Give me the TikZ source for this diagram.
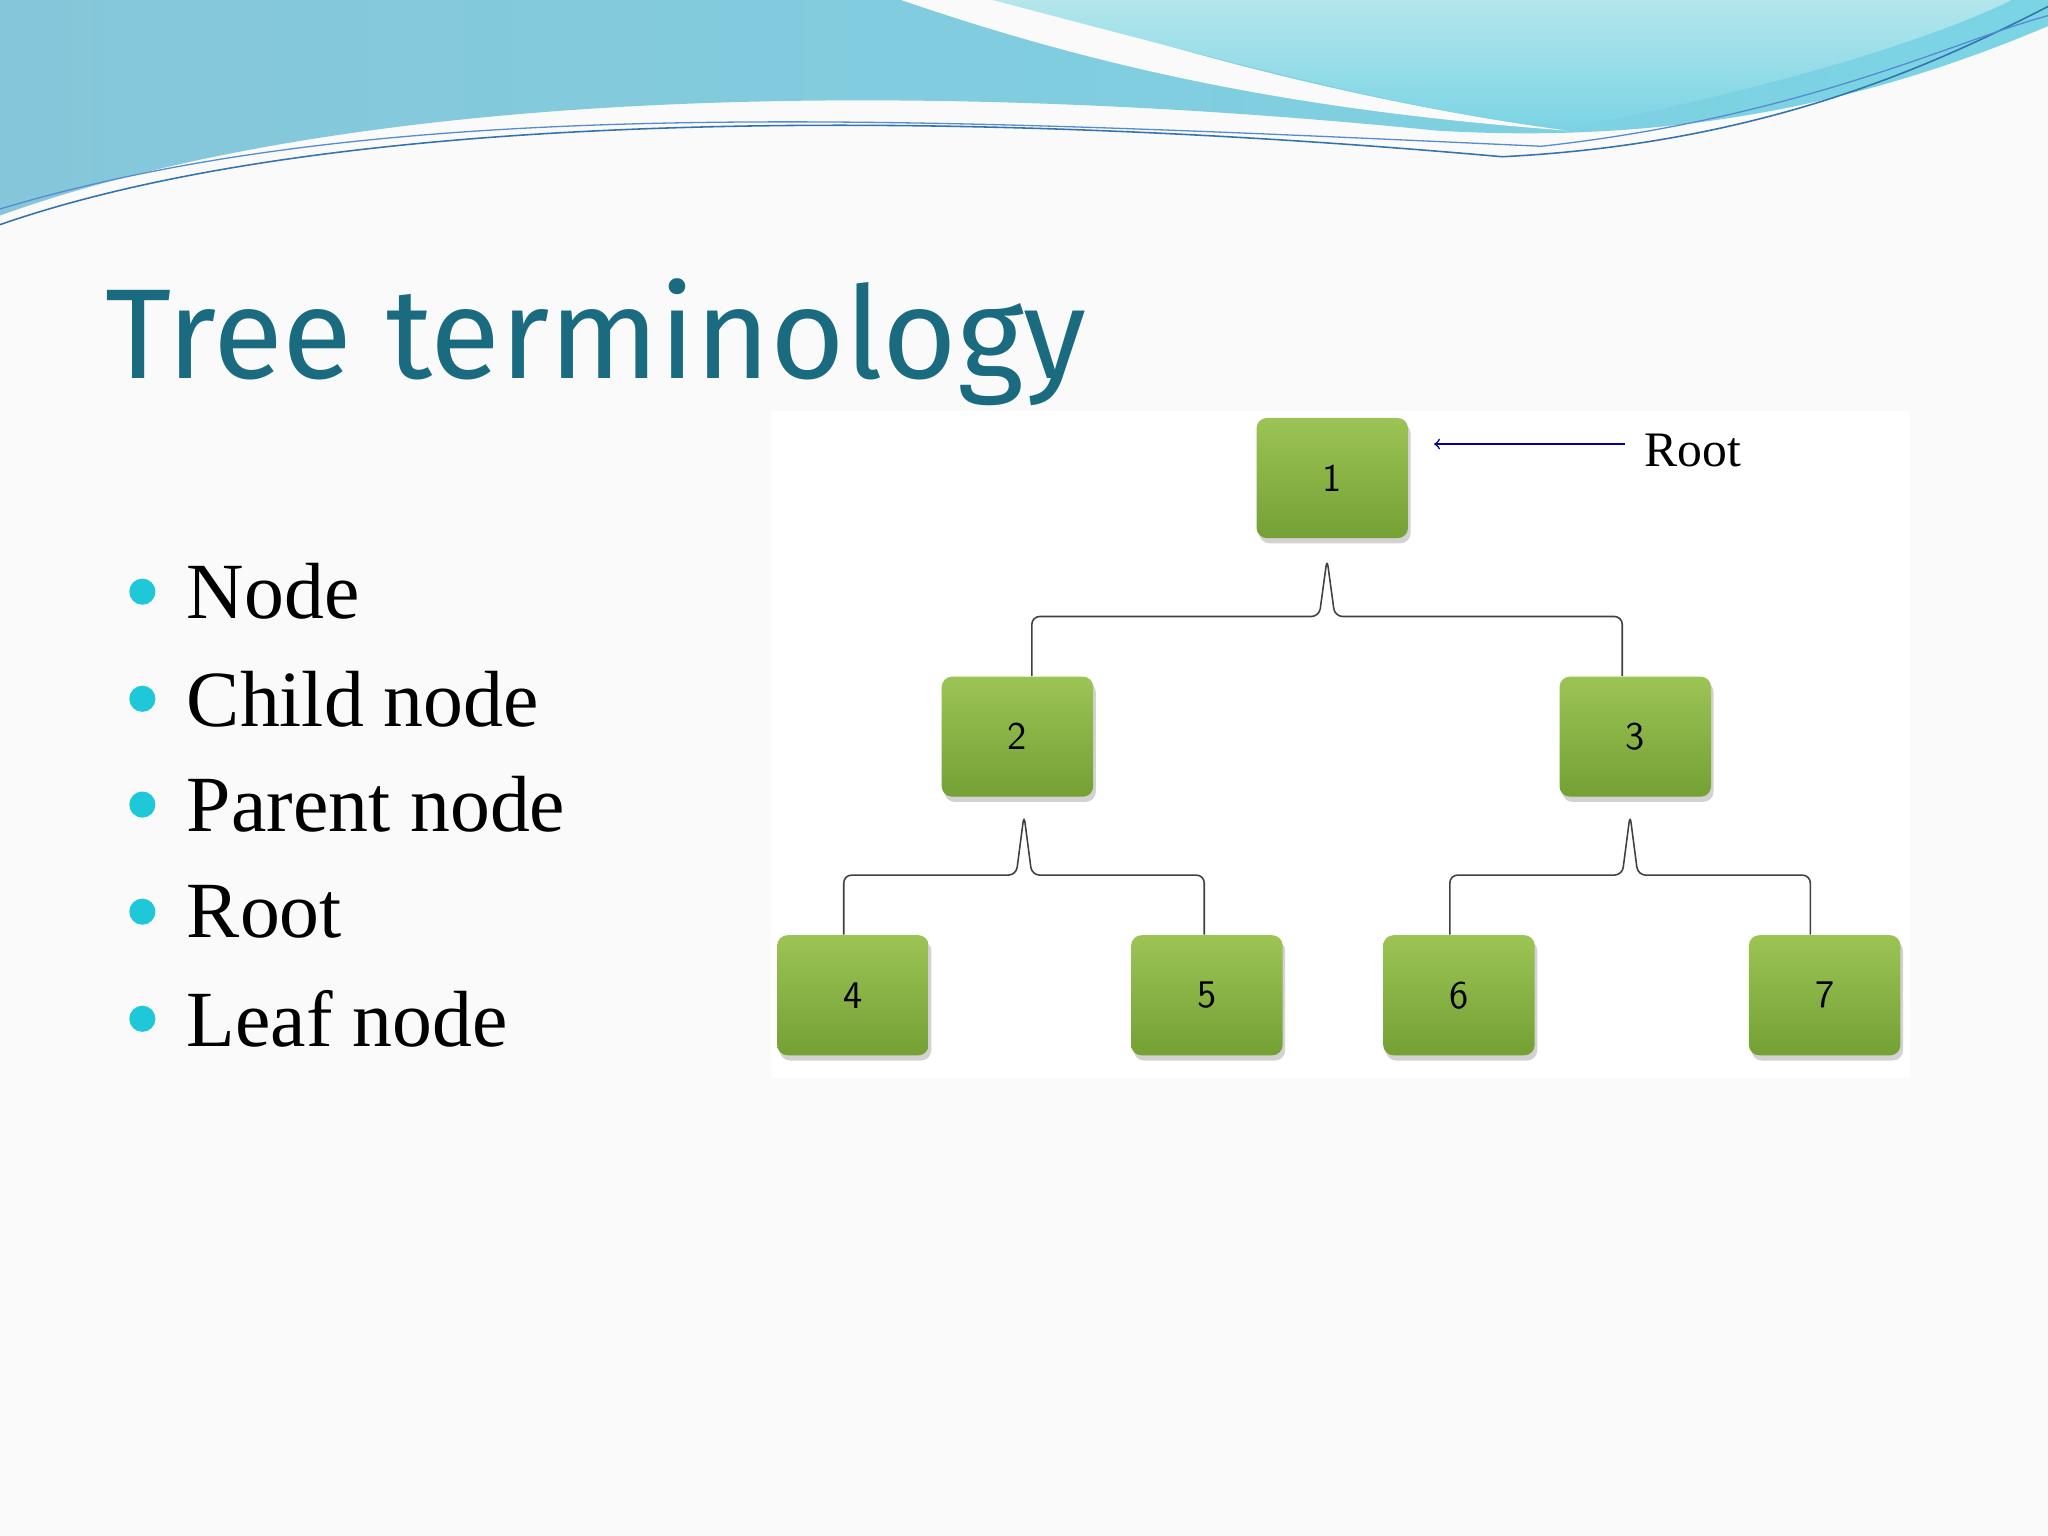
\documentclass[tikz,border=0pt]{standalone}
\usepackage{fontspec}
\setmainfont{Liberation Serif}
\newfontfamily\titlefont{Fira Sans}
\usetikzlibrary{shadows}
\definecolor{titleblue}{HTML}{1A6B80}
\definecolor{bul}{HTML}{1EC8D8}
\definecolor{gtop}{HTML}{9CC455}
\definecolor{gbot}{HTML}{74A034}
\definecolor{wave1}{HTML}{86C6DA}
\definecolor{wave2}{HTML}{7BD4E4}
\definecolor{wave3}{HTML}{B4E6EC}
\tikzset{
 tnode/.style={rounded corners=4pt, minimum width=58pt, minimum height=46pt, top color=gtop, bottom color=gbot, shade, draw=none, drop shadow={opacity=0.35,shadow xshift=1pt,shadow yshift=-2pt}, font=\fontsize{15}{15}\sffamily},
 conn/.style={draw=black!75, line width=0.6pt, rounded corners=3pt},
 btext/.style={anchor=west, font=\fontsize{30.5}{31}\selectfont},
 dot/.style={circle, fill=bul, inner sep=0pt, minimum size=10pt}
}
\begin{document}
\begin{tikzpicture}[x=0.5pt,y=-0.5pt]
\useasboundingbox (0,0) rectangle (1568,1176);
\fill[black!2] (0,0) rectangle (1568,1176);
% header waves
\shade[left color=wave1, right color=wave2] (0,0) -- (0,165) .. controls (250,75) and (650,55) .. (1100,100) .. controls (1300,112) and (1450,70) .. (1568,20) -- (1568,0) -- cycle;
\fill[black!2] (690,0) .. controls (850,55) and (1000,85) .. (1200,100) .. controls (1050,80) and (900,40) .. (780,0) -- cycle;
\shade[top color=wave3, bottom color=wave2] (760,0) .. controls (950,50) and (1100,90) .. (1200,98) .. controls (1350,70) and (1480,30) .. (1540,0) -- cycle;
\draw[cyan!60!blue!80!black, line width=0.6pt] (0,172) .. controls (250,85) and (700,80) .. (1150,120) .. controls (1350,110) and (1480,50) .. (1568,5);
\draw[cyan!50!blue!70, line width=0.5pt] (0,160) .. controls (300,70) and (700,90) .. (1180,112) .. controls (1380,90) and (1500,30) .. (1568,12);
% title
\node[anchor=base west, text=titleblue, font=\titlefont\fontsize{49}{49}\selectfont, inner sep=0] (title) at (80,290) {Tree terminology};
% bullets
\foreach \t/\y [count=\i] in {Node/453, Child node/535, Parent node/616, Root/698, Leaf node/780}{
 \node[dot] (d\i) at (109,\y) {};
 \node[btext] (b\i) at (136,\y) {\t};
}
% diagram panel
\fill[white] (590,315) rectangle (1462,825);
\node[tnode] (n1) at (1020,366) {1};
\node[tnode] (n2) at (779,564) {2};
\node[tnode] (n3) at (1252,564) {3};
\node[tnode] (n4) at (653,762) {4};
\node[tnode] (n5) at (924,762) {5};
\node[tnode] (n6) at (1117,762) {6};
\node[tnode] (n7) at (1397,762) {7};
\draw[conn] (n2.north -| 790,0) -- (790,472) -- (1010,472) -- (1016,428) -- (1022,472) -- (1242,472) -- (n3.north -| 1242,0);
\draw[conn] (n4.north -| 646,0) -- (646,670) -- (778,670) -- (784,624) -- (790,670) -- (922,670) -- (n5.north -| 922,0);
\draw[conn] (n6.north -| 1110,0) -- (1110,670) -- (1242,670) -- (1248,624) -- (1254,670) -- (1386,670) -- (n7.north -| 1386,0);
\node[anchor=west, font=\fontsize{19}{20}\selectfont] (root) at (1252,345) {Root};
\draw[->, draw=blue!60!black, line width=0.6pt] (root.west) ++(-8,-5) -- (1098,340);
\end{tikzpicture}
\end{document}
